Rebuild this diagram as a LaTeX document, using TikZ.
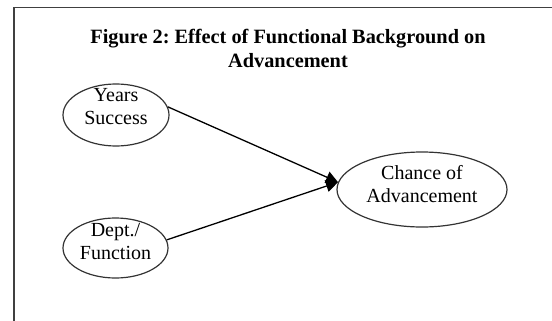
\documentclass[tikz,border=0pt]{standalone}
\usepackage{fontspec}
\setmainfont{Liberation Serif}
\usetikzlibrary{shapes.geometric,arrows.meta}
\frenchspacing

\begin{document}
\begin{tikzpicture}[x=1bp, y=1bp,
    var/.style={draw=black!80, line width=1.2bp, ellipse, inner sep=0pt},
    vartext/.style={align=center, inner sep=0pt, font=\fontsize{20bp}{23bp}\selectfont},
    link/.style={draw=black, line width=1.3bp, -{Triangle[length=12bp, width=12bp]}}]
    \useasboundingbox (0,0) rectangle (552,320);

    % --- frame and title ---
    \draw[black!75, line width=1.3bp] (14,-2) -- (14,312.7) -- (554,312.7);
    \node[align=center, inner sep=0pt, font=\fontsize{20.3bp}{24bp}\selectfont\bfseries] (title) at (288,272)
        {Figure 2: Effect of Functional Background on\\Advancement};

    % --- variables ---
    \node[var, minimum width=106bp, minimum height=62bp] (yrs) at (116,205) {};
    \node[vartext] (yrs-t) at ([yshift=8bp]yrs.center) {Years\\Success};

    \node[var, minimum width=105bp, minimum height=60bp] (dept) at (115.5,72) {};
    \node[vartext] (dept-t) at ([yshift=6.3bp]dept.center) {Dept./\\Function};

    \node[var, minimum width=170bp, minimum height=75bp] (chance) at (422,130.5) {};
    \node[vartext] (chance-t) at ([yshift=5.4bp]chance.center) {Chance of\\Advancement};

    % --- effects ---
    \draw[link] (yrs.9) -- (chance.175);
    \draw[link] (dept.9) -- (chance.175);
\end{tikzpicture}
\end{document}
